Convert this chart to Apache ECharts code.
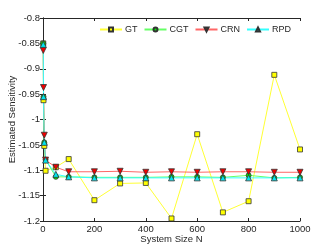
<!DOCTYPE html>
<html><head><meta charset="utf-8">
<script src="https://cdn.jsdelivr.net/npm/echarts@6/dist/echarts.min.js"></script>
<style>html,body{margin:0;padding:0;background:#fff}#c{width:332px;height:249px}</style>
</head><body><div id="c"></div>
<script>
var xN = [1, 2, 5, 10, 50, 100, 200, 300, 400, 500, 600, 700, 800, 900, 1000];
var gtVals  = [-0.850, -0.962, -1.052, -1.101, -1.094, -1.078, -1.159, -1.126, -1.125, -1.195, -1.029, -1.183, -1.161, -0.912, -1.059];
var cgtVals = [-0.850, -0.955, -1.045, -1.079, -1.113, -1.113, -1.114, -1.114, -1.114, -1.113, -1.113, -1.114, -1.110, -1.115, -1.114];
var crnVals = [-0.864, -0.937, -1.031, -1.080, -1.094, -1.103, -1.103, -1.102, -1.104, -1.103, -1.104, -1.103, -1.103, -1.104, -1.104];
var rpdVals = [-0.852, -0.955, -1.045, -1.080, -1.108, -1.113, -1.115, -1.115, -1.115, -1.115, -1.115, -1.115, -1.115, -1.115, -1.115];
var seriesNames = ['GT', 'CGT', 'CRN', 'RPD'];
var xTicks = [0, 200, 400, 600, 800, 1000];
var yTicks = [-1.2, -1.15, -1.1, -1.05, -1, -0.95, -0.9, -0.85, -0.8];

function pairs(v){ return xN.map(function(x,i){ return [x, v[i]]; }); }
var txt = '#262626';
var font = 'Liberation Sans, Arial, sans-serif';
var chart = echarts.init(document.getElementById('c'), null, {renderer:'canvas'});
function mk(name, vals, lineColor, fill, symbol, size, rot){
  return {
    name: name, type: 'line', data: pairs(vals),
    symbol: symbol, symbolSize: size, symbolRotate: rot || 0,
    lineStyle: {color: lineColor, width: 1},
    itemStyle: {color: fill, borderColor: '#333', borderWidth: 0.8},
    emphasis: {disabled: true}, animation: false, z: 2
  };
}
var axisLineStyle = {lineStyle: {color: txt, width: 1}};
chart.setOption({
  animation: false,
  grid: {left: 43, right: 32, top: 18, bottom: 28, containLabel: false, outerBoundsMode: 'none'},
  legend: {
    right: 36, top: 20, itemWidth: 22, itemHeight: 5, itemGap: 6,
    textStyle: {fontFamily: font, fontSize: 9, color: txt, padding: [0,0,0,-2]},
    data: seriesNames
  },
  xAxis: [{
    type: 'value', min: 0, max: 1000, interval: 200,
    name: 'System Size N', nameLocation: 'middle', nameGap: 13, nameMoveOverlap: false,
    nameTextStyle: {fontFamily: font, fontSize: 9.5, color: txt},
    axisLine: axisLineStyle, axisTick: {inside: true, length: 3, lineStyle: {color: txt}},
    axisLabel: {fontFamily: font, fontSize: 9.5, color: txt, margin: 3,
      formatter: function(v){ return String(v); }},
    splitLine: {show: false}
  },{
    type: 'value', min: 0, max: 1000, interval: 200, position: 'top',
    axisLine: axisLineStyle, axisTick: {inside: true, length: 3, lineStyle: {color: txt}},
    axisLabel: {show: false}, splitLine: {show: false}
  }],
  yAxis: [{
    type: 'value', min: -1.2, max: -0.8, interval: 0.05,
    name: 'Estimated Sensitivity', nameLocation: 'middle', nameGap: 26, nameMoveOverlap: false,
    nameTextStyle: {fontFamily: font, fontSize: 9.5, color: txt},
    axisLine: axisLineStyle, axisTick: {inside: true, length: 3, lineStyle: {color: txt}},
    axisLabel: {fontFamily: font, fontSize: 9.5, color: txt, margin: 3,
      formatter: function(v){ return String(Math.round(v*100)/100); }},
    splitLine: {show: false}
  },{
    type: 'value', min: -1.2, max: -0.8, interval: 0.05, position: 'right',
    axisLine: axisLineStyle, axisTick: {inside: true, length: 3, lineStyle: {color: txt}},
    axisLabel: {show: false}, splitLine: {show: false}
  }],
  series: [
    mk('GT', gtVals, '#ffff33', '#ffff00', 'rect', 5),
    mk('CGT', cgtVals, '#66ff66', '#00ee00', 'circle', 5),
    mk('CRN', crnVals, '#ff6666', '#ee0000', 'triangle', 6, 180),
    mk('RPD', rpdVals, '#33ffff', '#00e5ee', 'triangle', 6)
  ]
});
</script></body></html>
